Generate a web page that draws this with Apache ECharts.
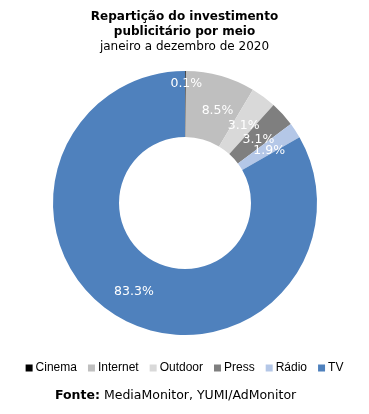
<!DOCTYPE html>
<html>
<head>
<meta charset="utf-8">
<script src="https://cdn.jsdelivr.net/npm/echarts@6/dist/echarts.min.js"></script>
<style>
html,body{margin:0;padding:0;background:#fff;}
#c{width:369px;height:414px;}
</style>
</head>
<body>
<div id="c"></div>
<script>
const categories = ['Cinema', 'Internet', 'Outdoor', 'Press', 'Rádio', 'TV'];
const values = [0.1, 8.5, 3.1, 3.1, 1.9, 83.3];
const colors = ['#000000', '#BFBFBF', '#D9D9D9', '#7F7F7F', '#B4C7E7', '#4F81BD'];
const labelShift = [[1, -17], [5, 6], [-2, 5], [-2, 5], [-1, 4], [0, 0]];

const chart = echarts.init(document.getElementById('c'), null, {renderer: 'canvas'});
chart.setOption({
  animation: false,
  title: {
    left: 'center',
    top: 4,
    text: 'Repartição do investimento\npublicitário por meio',
    textStyle: {fontFamily: 'DejaVu Sans', fontSize: 12, fontWeight: 'bold', color: '#000', lineHeight: 15},
    subtext: 'janeiro a dezembro de 2020',
    subtextStyle: {fontFamily: 'DejaVu Sans', fontSize: 12, color: '#000', lineHeight: 15},
    itemGap: 0
  },
  legend: {
    bottom: 35,
    left: 'center',
    itemWidth: 7,
    itemHeight: 7,
    itemGap: 11,
    icon: 'rect',
    textStyle: {fontFamily: 'Liberation Sans', fontSize: 12, color: '#000', padding: [0, 0, 0, -2]},
    data: categories
  },
  graphic: [{
    type: 'text',
    left: 55,
    top: 389,
    style: {
      text: '{b|Fonte:} MediaMonitor, YUMI/AdMonitor',
      rich: {b: {fontFamily: 'DejaVu Sans', fontSize: 12.5, fontWeight: 'bold', fill: '#000'}},
      font: '12.5px "DejaVu Sans"',
      fill: '#000'
    }
  }],
  series: [{
    type: 'pie',
    center: [185, 203],
    radius: [66, 132],
    startAngle: 90,
    clockwise: true,
    avoidLabelOverlap: false,
    label: {
      show: true,
      position: 'inside',
      formatter: p => p.value.toFixed(1) + '%',
      color: '#fff',
      fontFamily: 'DejaVu Sans',
      fontSize: 12.5
    },
    labelLayout: function (p) {
      const s = labelShift[p.dataIndex];
      return {dx: s[0], dy: s[1]};
    },
    labelLine: {show: false},
    itemStyle: {borderColor: '#fff', borderWidth: 0},
    emphasis: {disabled: true},
    data: categories.map((c, i) => ({name: c, value: values[i], itemStyle: {color: colors[i]}}))
  }]
});
</script>
</body>
</html>
